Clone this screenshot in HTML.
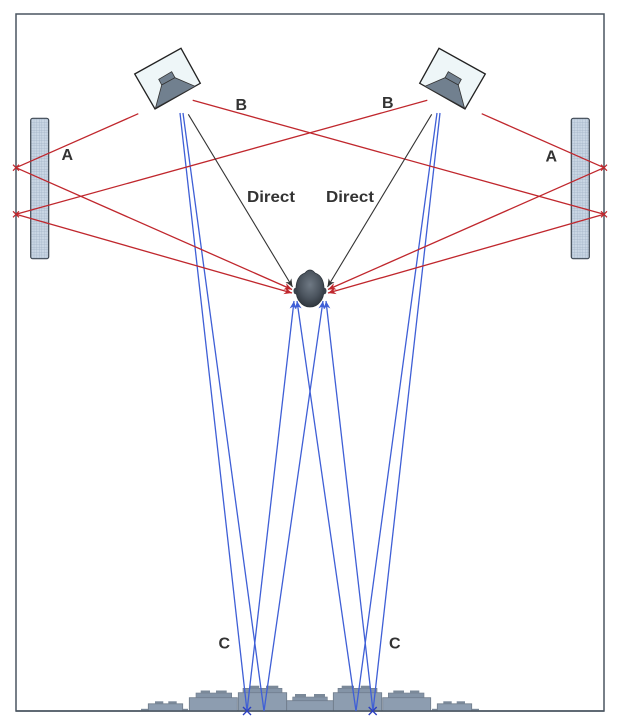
<!DOCTYPE html>
<html><head><meta charset="utf-8"><style>
html,body{margin:0;padding:0;background:#fff;}
svg{display:block;}
text{font-family:"Liberation Sans",sans-serif;font-weight:bold;font-size:16px;fill:#333;}
</style></head><body>
<svg width="620" height="727" viewBox="0 0 620 727" xmlns="http://www.w3.org/2000/svg">
<defs>
<pattern id="grid" width="2.6" height="2.6" patternUnits="userSpaceOnUse">
<rect width="2.6" height="2.6" fill="#c9d6e4"/>
<path d="M0 0H2.6M0 0V2.6" stroke="#9cadc2" stroke-width="0.6"/>
</pattern>
<radialGradient id="hg" cx="0.5" cy="0.4" r="0.6">
<stop offset="0" stop-color="#6f7984"/>
<stop offset="0.6" stop-color="#4c555f"/>
<stop offset="1" stop-color="#30373f"/>
</radialGradient>
<marker id="ar" markerWidth="9" markerHeight="7" refX="8" refY="3.5" orient="auto" markerUnits="userSpaceOnUse">
<path d="M0,0 L8,3.5 L0,7 L2.5,3.5 z" fill="#c0272d"/>
</marker>
<marker id="ab" markerWidth="9" markerHeight="7" refX="8" refY="3.5" orient="auto" markerUnits="userSpaceOnUse">
<path d="M0,0 L8,3.5 L0,7 L2.5,3.5 z" fill="#3f5fd6"/>
</marker>
<marker id="ad" markerWidth="9" markerHeight="7" refX="8" refY="3.5" orient="auto" markerUnits="userSpaceOnUse">
<path d="M0,0 L8,3.5 L0,7 L2.5,3.5 z" fill="#333"/>
</marker>
<g id="spk">
<polygon points="134.7,74 181,48.3 200.3,83.3 155,109" fill="#eef6f8" stroke="#222" stroke-width="1.3"/>
<polygon points="158.7,79.3 171.7,71.7 175,77.7 161.7,85" fill="#71808f" stroke="#333" stroke-width="0.8"/>
<polygon points="161.7,85 175,77.7 195,86.3 155.5,108" fill="#71808f" stroke="#333" stroke-width="0.8"/>
</g>
<g id="blocks">
<rect x="141" y="708.8" width="47" height="2.2" fill="#7b8999"/>
<rect x="148.3" y="703.8" width="34.4" height="7.2" fill="#8d9db0" stroke="#6e7b8a" stroke-width="0.8"/>
<rect x="155" y="701.3" width="8.3" height="2.5" fill="#7b8999"/>
<rect x="168.3" y="701.3" width="8.4" height="2.5" fill="#7b8999"/>
<rect x="189.3" y="697.7" width="48" height="13.3" fill="#8d9db0" stroke="#6e7b8a" stroke-width="0.8"/>
<rect x="196" y="693" width="35.7" height="4.7" fill="#8494a7" stroke="#6e7b8a" stroke-width="0.6"/>
<rect x="200.7" y="690.5" width="9.3" height="2.5" fill="#7b8999"/>
<rect x="216" y="690.5" width="10.7" height="2.5" fill="#7b8999"/>
<rect x="238.3" y="692.7" width="48.4" height="18.3" fill="#8d9db0" stroke="#6e7b8a" stroke-width="0.8"/>
<rect x="243" y="688.3" width="39" height="4.4" fill="#8494a7" stroke="#6e7b8a" stroke-width="0.6"/>
<rect x="250" y="685.7" width="9.3" height="2.6" fill="#7b8999"/>
<rect x="266" y="685.7" width="12.3" height="2.6" fill="#7b8999"/>
</g>
</defs>

<rect x="16" y="14" width="588" height="697" fill="#fff" stroke="#4a5560" stroke-width="1.5"/>

<!-- floor diffusers -->
<use href="#blocks"/>
<use href="#blocks" transform="translate(620,0) scale(-1,1)"/>
<rect x="286.7" y="700.7" width="46.6" height="10.3" fill="#8d9db0" stroke="#6e7b8a" stroke-width="0.8"/>
<rect x="292.7" y="697" width="34.6" height="3.7" fill="#8494a7" stroke="#6e7b8a" stroke-width="0.6"/>
<rect x="295" y="694" width="11" height="3" fill="#7b8999"/>
<rect x="314" y="694" width="11" height="3" fill="#7b8999"/>
<line x1="16" y1="711" x2="604" y2="711" stroke="#4a5560" stroke-width="1.5"/>

<!-- side panels -->
<rect x="30.7" y="118.3" width="18" height="140.4" rx="2" fill="url(#grid)" stroke="#3d4752" stroke-width="1.2"/>
<rect x="571.3" y="118.3" width="18" height="140.4" rx="2" fill="url(#grid)" stroke="#3d4752" stroke-width="1.2"/>

<!-- speakers -->
<use href="#spk"/>
<use href="#spk" transform="translate(620,0) scale(-1,1)"/>

<!-- blue paths -->
<g stroke="#3f5fd6" stroke-width="1.3" fill="none">
<line x1="180" y1="113" x2="247" y2="711"/>
<line x1="183" y1="113" x2="264" y2="711"/>
<line x1="247" y1="711" x2="294" y2="301" marker-end="url(#ab)"/>
<line x1="264" y1="711" x2="323" y2="301" marker-end="url(#ab)"/>
<line x1="440" y1="113" x2="373" y2="711"/>
<line x1="437" y1="113" x2="356" y2="711"/>
<line x1="373" y1="711" x2="326" y2="301" marker-end="url(#ab)"/>
<line x1="356" y1="711" x2="297" y2="301" marker-end="url(#ab)"/>
<path d="M243,707 L251,715 M251,707 L243,715 M368.7,707 L376.7,715 M376.7,707 L368.7,715" stroke="#2b3fc0" stroke-width="1.4"/>
</g>

<!-- red paths -->
<g stroke="#c0272d" stroke-width="1.3" fill="none">
<line x1="138.3" y1="113.7" x2="16" y2="167.7"/>
<line x1="16" y1="167.7" x2="292" y2="289.5" marker-end="url(#ar)"/>
<line x1="16" y1="214.3" x2="292" y2="293" marker-end="url(#ar)"/>
<line x1="192.7" y1="100.3" x2="604" y2="214.3"/>
<line x1="481.7" y1="113.7" x2="604" y2="167.7"/>
<line x1="604" y1="167.7" x2="328" y2="289.5" marker-end="url(#ar)"/>
<line x1="604" y1="214.3" x2="328" y2="293" marker-end="url(#ar)"/>
<line x1="427.3" y1="100.3" x2="16" y2="214.3"/>
<path d="M13,164.7 L19,170.7 M19,164.7 L13,170.7 M13,211.3 L19,217.3 M19,211.3 L13,217.3 M601,164.7 L607,170.7 M607,164.7 L601,170.7 M601,211.3 L607,217.3 M607,211.3 L601,217.3" stroke-width="1.2"/>
</g>

<!-- direct -->
<g stroke="#333" stroke-width="1.1">
<line x1="188.3" y1="114.3" x2="292.5" y2="287" marker-end="url(#ad)"/>
<line x1="431.7" y1="114.3" x2="327.5" y2="287" marker-end="url(#ad)"/>
</g>

<!-- head -->
<g>
<path d="M310,270 C307,270 306,272 305,273 C299,275 296,281 296,289 C296,294 297,299 300,302 C303,306 307,307 310,307 C313,307 317,306 320,302 C323,299 324,294 324,289 C324,281 321,275 315,273 C314,272 313,270 310,270 Z" fill="url(#hg)" stroke="#2c333a" stroke-width="0.8"/>
<ellipse cx="295.5" cy="291" rx="2" ry="3.2" fill="#3a424b"/>
<ellipse cx="324.5" cy="291" rx="2" ry="3.2" fill="#3a424b"/>
</g>

<!-- labels -->
<text x="247" y="202" textLength="48" lengthAdjust="spacingAndGlyphs">Direct</text>
<text x="326" y="202" textLength="48" lengthAdjust="spacingAndGlyphs">Direct</text>
<text x="61.5" y="160">A</text>
<text x="545.5" y="161.5">A</text>
<text x="235.5" y="110">B</text>
<text x="382" y="108">B</text>
<text x="218.5" y="648.5">C</text>
<text x="389" y="648.5">C</text>
</svg>
</body></html>
